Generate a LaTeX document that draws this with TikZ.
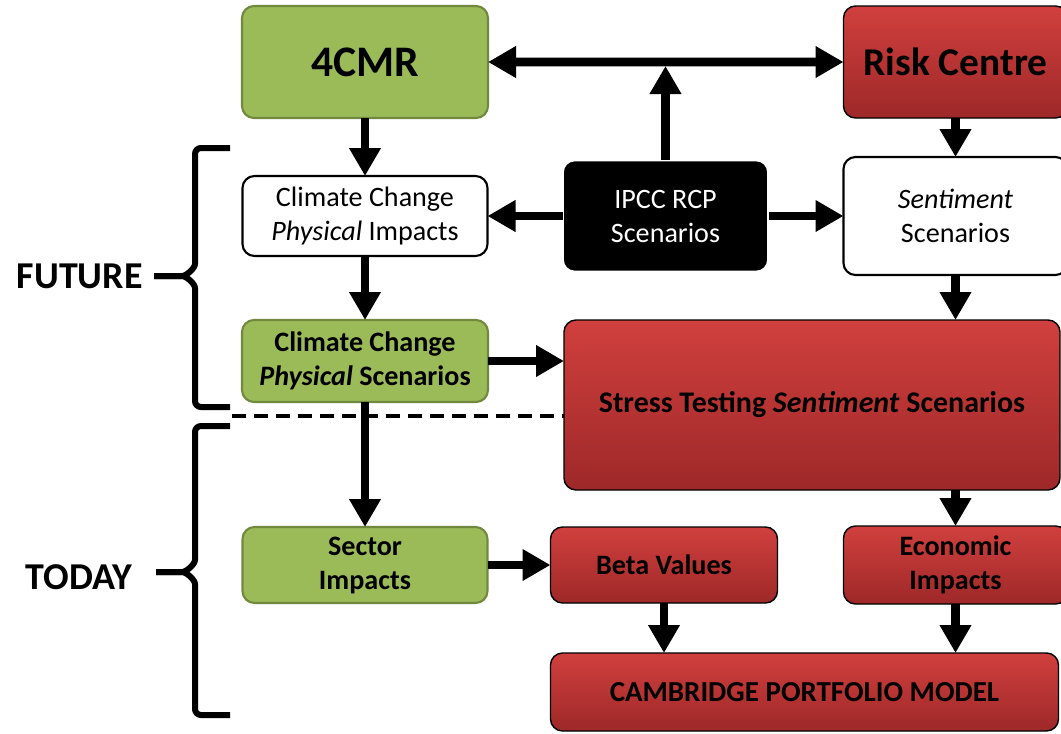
\documentclass[tikz,border=0pt]{standalone}
\usepackage{fontspec}
\setmainfont{Carlito}
\usepackage{xcolor}
\usetikzlibrary{arrows.meta,positioning,calc}

\definecolor{boxgreen}{RGB}{155,187,89}
\definecolor{greenline}{RGB}{113,137,63}
\definecolor{redtop}{RGB}{208,64,62}
\definecolor{redbottom}{RGB}{158,40,40}

\begin{document}
\begin{tikzpicture}[>={Triangle[length=0.7cm,width=0.75cm]}]
        % Style definitions
        \tikzset{
            box/.style={rectangle, rounded corners=0.3cm, align=center, inner sep=2pt, outer sep=0pt, font=\fontsize{20}{24.2}\selectfont},
            greenbox/.style={box, draw=greenline, fill=boxgreen, line width=1.5pt, font=\fontsize{20}{24.2}\selectfont\bfseries},
            whitebox/.style={box, draw=black, fill=white, line width=1.5pt},
            redbox/.style={box, draw=black, line width=1pt, top color=redtop, bottom color=redbottom, font=\fontsize{20}{24.2}\selectfont\bfseries},
            blackbox/.style={box, draw=white, fill=black, line width=2pt, text=white},
            bigtext/.style={font=\fontsize{28}{32}\selectfont\bfseries},
            flow/.style={->, line width=0.22cm},
            brace/.style={line width=0.15cm, rounded corners=0.15cm},
            cutline/.style={line width=0.08cm, dash pattern=on 0.35cm off 0.2cm},
            timelabel/.style={inner sep=0pt, font=\fontsize{27}{30}\selectfont\bfseries}
        }

        \useasboundingbox (0,0) rectangle (26.525,-18.325);

        % Left column (4CMR side)
        \node [greenbox, font=\fontsize{31}{34}\selectfont\bfseries, minimum width=6.15cm, minimum height=2.8cm] (cmr) at (9.125,-1.55) {4CMR};
        \node [whitebox, below=1.45cm of cmr, minimum width=6.125cm, minimum height=2cm] (impacts) {Climate Change\\\textit{Physical} Impacts};
        \node [greenbox, below=1.6cm of impacts, minimum width=6.15cm, minimum height=2.05cm] (physical) {Climate Change\\\textit{Physical} Scenarios};
        \node [greenbox, below=3.125cm of physical, minimum width=6.125cm, minimum height=1.9cm] (sector) {Sector\\Impacts};

        % Middle and right column (Risk Centre side)
        \node [blackbox, right=1.875cm of impacts, minimum width=5.15cm, minimum height=2.8cm] (ipcc) {IPCC RCP\\Scenarios};
        \node [whitebox, right=1.875cm of ipcc, minimum width=5.6cm, minimum height=2.95cm] (sentiment) {\textit{Sentiment}\\Scenarios};
        \node [redbox, bigtext, above=0.975cm of sentiment, minimum width=5.6cm, minimum height=2.8cm] (risk) {Risk Centre};
        \node [redbox, font=\fontsize{21.3}{25}\selectfont\bfseries, right=1.9cm of physical.north east, anchor=north west, minimum width=12.4cm, minimum height=4.25cm] (stress) {Stress Testing \textit{Sentiment} Scenarios};
        \node [redbox, right=1.575cm of sector, minimum width=5.675cm, minimum height=1.9cm] (beta) {Beta Values};
        \node [redbox, right=1.65cm of beta, minimum width=5.6cm, minimum height=1.95cm] (economic) {Economic\\Impacts};
        \node [redbox, font=\fontsize{20.6}{24}\selectfont\bfseries, below=1.25cm of beta.south west, anchor=north west, minimum width=12.7cm, minimum height=1.95cm] (cambridge) {CAMBRIDGE PORTFOLIO MODEL};

        % Separator between future and today
        \coordinate (cut) at (5.8,-10.4);
        \draw [cutline] (cut) -- (cut -| stress.west);

        % Connections
        \draw [flow, <->] (cmr) -- (risk);
        \draw [flow, shorten >=0.1cm] (ipcc.north) -- (ipcc.north |- cmr.east);
        \draw [flow] (cmr) -- (impacts);
        \draw [flow] (risk.south -| sentiment.north) -- (sentiment.north);
        \draw [flow] (ipcc) -- (impacts);
        \draw [flow] (ipcc) -- (sentiment);
        \draw [flow] (impacts) -- (physical);
        \draw [flow] (sentiment.south) -- (sentiment.south |- stress.north);
        \draw [flow] (physical.east) -- (physical.east -| stress.west);
        \draw [flow] (physical) -- (sector);
        \draw [flow] (sector) -- (beta);
        \draw [flow] (economic.north |- stress.south) -- (economic.north);
        \draw [flow] (beta.south) -- (beta.south |- cambridge.north);
        \draw [flow] (economic.south) -- (economic.south |- cambridge.north);

        % Braces with time labels
        \coordinate (futuretip) at (3.85,-6.9);
        \draw [brace] (5.75,-3.7) -- (4.875,-3.7) -- (4.875,-6.45) to[out=-90,in=0] (4.4,-6.9) -- (futuretip);
        \draw [brace] (futuretip) -- (4.4,-6.9) to[out=0,in=90] (4.875,-7.35) -- (4.875,-10.175) -- (5.75,-10.175);
        \node [timelabel, left=0.28cm of futuretip] (future) {FUTURE};

        \coordinate (todaytip) at (3.9,-14.3);
        \draw [brace] (5.75,-10.65) -- (4.875,-10.65) -- (4.875,-13.85) to[out=-90,in=0] (4.4,-14.3) -- (todaytip);
        \draw [brace] (todaytip) -- (4.4,-14.3) to[out=0,in=90] (4.875,-14.75) -- (4.875,-17.875) -- (5.75,-17.875);
        \node [timelabel, left=0.6cm of todaytip, yshift=-0.12cm] (today) {TODAY};
    \end{tikzpicture}
\end{document}
